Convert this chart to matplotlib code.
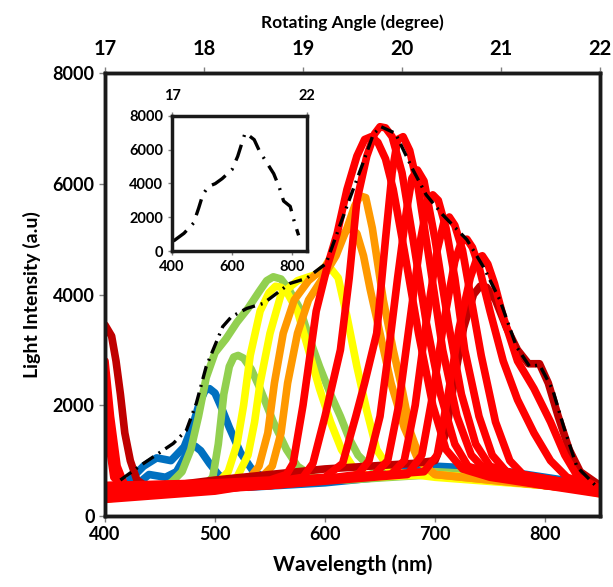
import matplotlib
matplotlib.use("Agg")
import matplotlib.pyplot as plt

plt.rcParams['font.family'] = ['Lato', 'DejaVu Sans']
plt.rcParams['font.weight'] = 'bold'

# ---------------- data ----------------
x_ticks = [400, 500, 600, 700, 800]
y_ticks = [0, 2000, 4000, 6000, 8000]
angle_ticks = [17, 18, 19, 20, 21, 22]
inset_x_ticks = [400, 600, 800]
inset_angle_ticks = [17, 22]

blue1_wl = [400, 420, 435, 447, 460, 472, 480, 486, 491, 495, 500, 506, 513, 523, 535, 550, 600, 650, 700, 750, 800, 850]
blue1_int = [450, 600, 900, 1050, 1000, 1250, 1650, 2050, 2270, 2300, 2220, 1950, 1600, 1150, 800, 650, 650, 750, 900, 850, 700, 550]

blue2_wl = [400, 425, 440, 455, 465, 472, 477, 482, 487, 495, 503, 512, 530, 600, 700, 800, 850]
blue2_int = [350, 500, 750, 700, 800, 1050, 1230, 1260, 1180, 950, 750, 600, 520, 600, 800, 650, 500]

green1_wl = [400, 440, 460, 470, 478, 485, 492, 500, 510, 520, 530, 540, 547, 553, 560, 567, 577, 586, 595, 605, 614, 622, 630, 640, 660, 700, 750, 800, 850]
green1_int = [300, 450, 600, 800, 1200, 1800, 2500, 2950, 3200, 3500, 3750, 4050, 4250, 4320, 4280, 4100, 3750, 3200, 2700, 2200, 1800, 1400, 1100, 900, 750, 800, 750, 600, 450]

green2_wl = [400, 450, 490, 498, 503, 508, 513, 517, 521, 526, 533, 541, 553, 565, 575, 590, 620, 700, 800, 850]
green2_int = [400, 500, 550, 700, 1300, 2200, 2700, 2870, 2900, 2850, 2650, 2300, 1700, 1200, 900, 700, 650, 750, 600, 500]

yellow1_wl = [400, 450, 500, 512, 520, 526, 532, 541, 549, 555, 560, 566, 575, 585, 595, 605, 615, 625, 640, 700, 800, 850]
yellow1_int = [300, 450, 550, 800, 1300, 2000, 2900, 3700, 4030, 4150, 4130, 4020, 3700, 3000, 2300, 1700, 1200, 900, 700, 750, 600, 400]

yellow2_wl = [400, 450, 500, 520, 530, 536, 541, 550, 560, 575, 590, 600, 606, 612, 620, 629, 638, 647, 660, 700, 800, 850]
yellow2_int = [350, 450, 550, 700, 1100, 1700, 2400, 3300, 4000, 4250, 4350, 4430, 4450, 4300, 3600, 2700, 1900, 1200, 800, 700, 550, 450]

orange1_wl = [400, 450, 500, 530, 540, 548, 554, 562, 572, 585, 600, 612, 619, 624, 629, 635, 641, 650, 660, 672, 685, 700, 750, 800, 850]
orange1_int = [400, 450, 550, 650, 900, 1500, 2400, 3300, 3900, 4250, 4500, 4900, 5150, 5200, 5100, 4700, 4100, 3300, 2400, 1600, 1000, 750, 650, 550, 450]

orange2_wl = [400, 450, 500, 540, 552, 560, 566, 575, 585, 598, 610, 620, 627, 632, 637, 643, 653, 662, 670, 678, 688, 700, 750, 800, 850]
orange2_int = [350, 450, 550, 650, 900, 1500, 2400, 3300, 3900, 4300, 4700, 5200, 5600, 5780, 5750, 5200, 3900, 3000, 2300, 1500, 950, 750, 650, 550, 450]

red1_wl = [400, 500, 550, 565, 571, 580, 592, 602, 611, 620, 629, 636, 642, 648, 655, 662, 672, 685, 698, 710, 725, 750, 800, 850]
red1_int = [550, 600, 650, 750, 950, 2000, 3700, 4500, 5100, 5900, 6500, 6800, 6850, 6750, 6450, 5900, 4800, 3300, 2000, 1200, 850, 700, 550, 450]

red2_wl = [400, 500, 580, 589, 600, 607, 614, 622, 629, 638, 645, 650, 655, 661, 670, 680, 692, 705, 718, 730, 760, 800, 850]
red2_int = [300, 450, 700, 950, 1800, 2400, 3000, 4300, 5700, 6500, 6900, 7030, 7010, 6850, 6200, 5000, 3500, 2200, 1300, 900, 700, 550, 400]

red3_wl = [400, 500, 600, 616, 628, 636, 647, 655, 661, 666, 671, 677, 685, 695, 707, 720, 733, 745, 780, 850]
red3_int = [450, 550, 700, 950, 1800, 2400, 3300, 5000, 6200, 6800, 6850, 6600, 5900, 4600, 3000, 1800, 1100, 850, 700, 450]

red4_wl = [400, 550, 630, 640, 650, 658, 666, 674, 679, 684, 690, 700, 712, 724, 737, 750, 790, 850]
red4_int = [350, 550, 750, 1000, 1800, 3000, 4300, 5500, 6100, 6250, 6050, 5000, 3500, 2200, 1300, 900, 650, 450]

red5_wl = [400, 550, 645, 657, 667, 677, 687, 693, 698, 703, 710, 718, 727, 740, 752, 765, 850]
red5_int = [550, 600, 750, 1000, 2000, 3500, 5000, 5650, 5800, 5700, 5200, 4300, 3000, 1800, 1100, 800, 500]

red6_wl = [400, 550, 660, 672, 682, 692, 702, 708, 713, 718, 725, 733, 742, 755, 768, 780, 850]
red6_int = [400, 550, 750, 1000, 2000, 3500, 4800, 5300, 5400, 5250, 4800, 3900, 2900, 1700, 1000, 750, 500]

red7_wl = [400, 403, 408, 420, 550, 675, 688, 698, 708, 718, 724, 729, 734, 740, 750, 762, 775, 790, 805, 820, 850]
red7_int = [2200, 1400, 700, 450, 550, 750, 1100, 2200, 3500, 4600, 4950, 5000, 4850, 4500, 3700, 2800, 2100, 1500, 1000, 700, 500]

red8_wl = [400, 405, 411, 418, 550, 690, 702, 712, 722, 732, 738, 743, 748, 754, 762, 775, 790, 805, 818, 830, 850]
red8_int = [2800, 1800, 900, 550, 600, 800, 1100, 2200, 3400, 4300, 4650, 4700, 4550, 4200, 3600, 2800, 2300, 1700, 1100, 700, 500]

darkred_wl = [400, 406, 410, 414, 418, 423, 429, 440, 500, 600, 680, 700, 710, 718, 726, 735, 741, 747, 755, 765, 775, 785, 795, 803, 812, 822, 832, 850]
darkred_int = [3450, 3250, 2800, 2200, 1500, 1000, 650, 500, 650, 850, 950, 1000, 1500, 2500, 3400, 4000, 4150, 4130, 3900, 3400, 3000, 2750, 2750, 2400, 1800, 1200, 800, 550]

env_wl = [414, 435, 462, 474, 483, 492, 507, 515, 529, 544, 558, 568, 583, 601, 620, 635, 644, 651, 664, 680, 692, 707, 729, 744, 759, 774, 786, 795, 807, 817, 829, 847]
env_int = [650, 950, 1310, 1550, 2035, 2700, 3420, 3600, 3750, 3840, 4050, 4200, 4290, 4560, 5600, 6400, 6900, 7030, 6910, 6250, 5800, 5440, 4990, 4500, 3900, 3060, 2700, 2730, 2280, 1610, 890, 530]

inset_wl = [405, 440, 472, 489, 503, 522, 544, 567, 600, 619, 644, 674, 692, 739, 758, 772, 794, 808, 822]
inset_int = [592, 1050, 1659, 2548, 3357, 3830, 3990, 4285, 4820, 5609, 7011, 6596, 5905, 4582, 3752, 2962, 2646, 1718, 928]

BLUE = '#0070C0'
GREEN = '#92D050'
YELLOW = '#FFFF00'
ORANGE = '#FF9900'
RED = '#FF0000'
DARKRED = '#C00000'

series = [
    (blue2_wl, blue2_int, BLUE), (blue1_wl, blue1_int, BLUE),
    (green1_wl, green1_int, GREEN), (green2_wl, green2_int, GREEN),
    (yellow1_wl, yellow1_int, YELLOW), (yellow2_wl, yellow2_int, YELLOW),
    (orange1_wl, orange1_int, ORANGE), (orange2_wl, orange2_int, ORANGE),
    (darkred_wl, darkred_int, DARKRED),
    (red1_wl, red1_int, RED), (red2_wl, red2_int, RED), (red3_wl, red3_int, RED),
    (red4_wl, red4_int, RED), (red5_wl, red5_int, RED), (red6_wl, red6_int, RED),
    (red7_wl, red7_int, RED), (red8_wl, red8_int, RED),
]

# ---------------- figure ----------------
fig = plt.figure(figsize=(6.13, 5.87), dpi=100)
ax = fig.add_axes([0.1713, 0.1209, 0.8075, 0.7547])

for wl, it, c in series:
    ax.plot(wl, it, color=c, lw=5.5, solid_joinstyle='round', solid_capstyle='round')

ax.plot(env_wl, env_int, color='black', lw=2.4, linestyle=(0, (4, 1.8, 0.6, 1.8)), zorder=5)

ax.set_xlim(400, 850)
ax.set_ylim(0, 8000)
ax.set_xticks(x_ticks)
ax.set_yticks(y_ticks)
ax.tick_params(axis='both', labelsize=13, length=4, width=1, color='#808080', direction='out')
for lab in ax.get_xticklabels() + ax.get_yticklabels():
    lab.set_fontweight('bold')
ax.set_xlabel('Wavelength (nm)', fontsize=15, fontweight='bold', labelpad=8)
ax.set_ylabel('Light Intensity (a.u)', fontsize=14, fontweight='bold', labelpad=8)
for sp in ax.spines.values():
    sp.set_linewidth(2.5)
    sp.set_color('#1a1a1a')

ax2 = ax.twiny()
ax2.set_xlim(17, 22)
ax2.set_xticks(angle_ticks)
ax2.tick_params(axis='x', labelsize=14.5, length=4, width=1, color='#808080', direction='out', pad=6)
for lab in ax2.get_xticklabels():
    lab.set_fontweight('bold')
ax2.set_xlabel('Rotating Angle (degree)', fontsize=12.5, fontweight='bold', labelpad=8)
for sp in ax2.spines.values():
    sp.set_linewidth(2.5)
    sp.set_color('#1a1a1a')

# ---------------- inset ----------------
axi = fig.add_axes([0.2806, 0.5724, 0.2202, 0.2300])
axi.plot(inset_wl, inset_int, color='black', lw=2.4, linestyle=(0, (5, 2.5, 0.6, 2.5)))
axi.set_xlim(400, 850)
axi.set_ylim(0, 8000)
axi.set_xticks(inset_x_ticks)
axi.set_yticks(y_ticks)
axi.tick_params(axis='both', labelsize=10.5, length=3, width=1, color='#808080', direction='out')
for lab in axi.get_xticklabels() + axi.get_yticklabels():
    lab.set_fontweight('bold')
for sp in axi.spines.values():
    sp.set_linewidth(2.5)
    sp.set_color('#1a1a1a')
axi2 = axi.twiny()
axi2.set_xlim(17, 22)
axi2.set_xticks(inset_angle_ticks)
axi2.tick_params(axis='x', labelsize=10.5, length=3, width=1, color='#808080', direction='out', pad=6)
for lab in axi2.get_xticklabels():
    lab.set_fontweight('bold')
axi.set_facecolor('white')
axi.set_zorder(10)

fig.savefig('out.png', dpi=100)
